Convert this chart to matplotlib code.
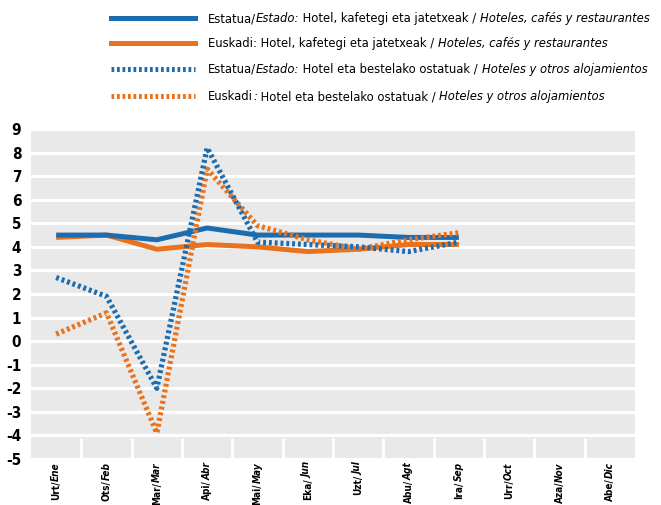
import numpy as np
import matplotlib.pyplot as plt
from matplotlib.lines import Line2D
import matplotlib.transforms as mtransforms

months_eu = ["Urt", "Ots", "Mar", "Api", "Mai", "Eka", "Uzt", "Abu", "Ira", "Urr", "Aza", "Abe"]
months_es = ["Ene", "Feb", "Mar", "Abr", "May", "Jun", "Jul", "Agt", "Sep", "Oct", "Nov", "Dic"]

# Jan..Sep, the rest of the year has no data yet
estado_hcr = [4.5, 4.5, 4.3, 4.8, 4.5, 4.5, 4.5, 4.4, 4.4]
euskadi_hcr = [4.4, 4.5, 3.9, 4.1, 4.0, 3.8, 3.9, 4.1, 4.1]
estado_aloj = [2.7, 1.9, -2.0, 8.2, 4.2, 4.1, 4.0, 3.8, 4.2]
euskadi_aloj = [0.3, 1.2, -3.9, 7.3, 4.9, 4.3, 3.9, 4.3, 4.6]

legend_parts = [
    [("Estatua/", "normal"), ("Estado:", "italic"), (" Hotel, kafetegi eta jatetxeak / ", "normal"),
     ("Hoteles, cafés y restaurantes", "italic")],
    [("Euskadi: Hotel, kafetegi eta jatetxeak / ", "normal"), ("Hoteles, cafés y restaurantes", "italic")],
    [("Estatua/", "normal"), ("Estado:", "italic"), (" Hotel eta bestelako ostatuak / ", "normal"),
     ("Hoteles y otros alojamientos", "italic")],
    [("Euskadi", "normal"), (":", "italic"), (" Hotel eta bestelako ostatuak / ", "normal"),
     ("Hoteles y otros alojamientos", "italic")],
]

BLUE = "#1c6cb0"
ORANGE = "#e8721e"

# narrow face, closest to the condensed grotesque of the original
plt.rcParams["font.family"] = "DejaVu Sans"
plt.rcParams["font.stretch"] = "condensed"


def main():
    fig = plt.figure(figsize=(6.61, 5.05), dpi=100)
    renderer = fig.canvas.get_renderer()
    ax = fig.add_axes([31 / 661, 1 - 459 / 505, 604 / 661, 330 / 505])
    ax.set_facecolor("#e9e9e9")

    x = np.arange(len(estado_hcr))
    dotted = (0, (0.55, 0.55))
    # orange below blue for solids, dotted on top
    for vals, col, ls in [(euskadi_hcr, ORANGE, "-"), (estado_hcr, BLUE, "-"),
                          (euskadi_aloj, ORANGE, dotted), (estado_aloj, BLUE, dotted)]:
        ax.plot(x, vals, color=col, lw=3.6 if ls == "-" else 3.8, ls=ls,
                solid_capstyle="butt", dash_capstyle="butt", zorder=3)

    ax.set_xlim(-0.5, 11.5)
    ax.set_ylim(-5, 9)
    ax.set_yticks(np.arange(-5, 10))
    ax.set_yticklabels([str(v) for v in range(-5, 10)], fontsize=11, fontweight="bold")
    ax.grid(axis="y", color="white", lw=2.2, zorder=1)
    ax.set_axisbelow(True)
    ax.set_xticks(np.arange(12))
    ax.set_xticklabels([""] * 12)
    ax.set_xticks(np.arange(0.5, 11, 1), minor=True)
    ax.tick_params(axis="x", which="major", length=0)
    ax.tick_params(axis="x", which="minor", direction="in", length=15, width=2, color="white")
    ax.tick_params(axis="y", length=0, pad=7)
    for s in ax.spines.values():
        s.set_visible(False)

    # month labels, Basque regular + Spanish italic
    trans = mtransforms.blended_transform_factory(ax.transData, ax.transAxes)
    for i, (eu, es) in enumerate(zip(months_eu, months_es)):
        t = ax.text(i, -0.01, es, transform=trans, rotation=90, ha="center", va="top",
                    fontsize=7.2, fontstyle="italic", fontweight="bold")
        ax.annotate(eu + "/", xy=(0.5, 0), xycoords=t, rotation=90, ha="center", va="top",
                    fontsize=7.2, fontweight="bold")

    # legend drawn by hand because of the mixed italic labels
    rows_y = [1 - 18 / 505, 1 - 43 / 505, 1 - 69 / 505, 1 - 96 / 505]
    styles = [(BLUE, "-"), (ORANGE, "-"), (BLUE, dotted), (ORANGE, dotted)]
    fs = 9.3
    for yy, (col, ls), parts in zip(rows_y, styles, legend_parts):
        fig.add_artist(Line2D([111 / 661, 195 / 661], [yy, yy], color=col, lw=3.6, ls=ls,
                              transform=fig.transFigure))
        xpos = 208
        for txt, style in parts:
            t = fig.text(xpos / 661, yy - 4 / 505, txt, fontstyle=style, fontsize=fs,
                         va="baseline", ha="left")
            xpos = t.get_window_extent(renderer).x1
    fig.savefig("out.png", dpi=100)


if __name__ == "__main__":
    main()
